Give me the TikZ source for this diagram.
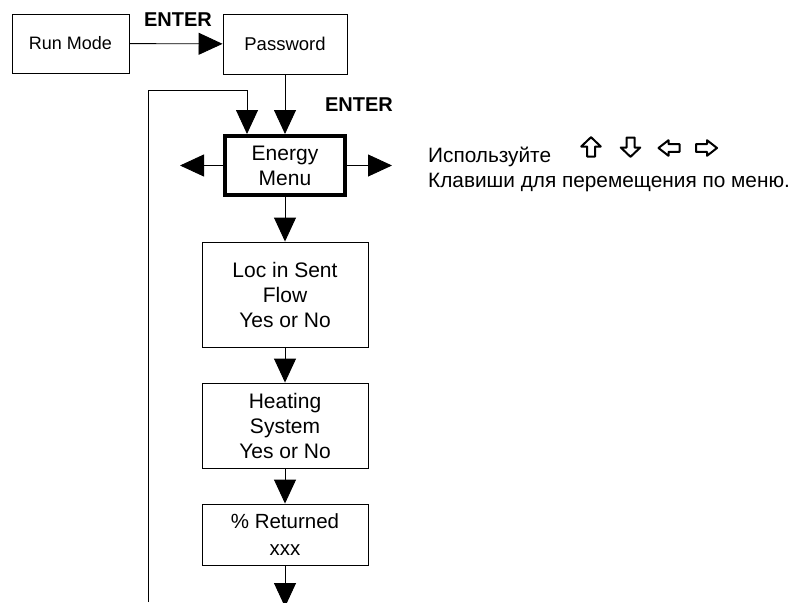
\documentclass[tikz,border=0pt]{standalone}
\usepackage{fontspec}
\setmainfont{Liberation Sans}
\usetikzlibrary{positioning,arrows.meta}

\begin{document}
\begin{tikzpicture}[
  x=1pt, y=-1pt,
  menubox/.style={draw=black, line width=0.9pt, fill=white, inner sep=0pt, align=center, font=\fontsize{21}{25}\selectfont},
  mainbox/.style={menubox, line width=4pt},
  keylabel/.style={font=\fontsize{20}{22}\selectfont\bfseries},
  note/.style={font=\fontsize{20.8}{24}\selectfont, anchor=base west, inner sep=0pt},
  keyarrow/.style={draw=black, line width=2pt, line join=round},
  arrow/.style={-{Triangle[length=24pt,width=22pt]}, line width=0.9pt, black}
]
  \useasboundingbox (0,0) rectangle (799,602);

  \node[menubox, minimum width=117pt, minimum height=59pt, font=\fontsize{18}{22}\selectfont] (runmode) at (70.5,43.5) {Run Mode};
  \node[menubox, minimum width=124pt, minimum height=60pt, font=\fontsize{18.5}{22}\selectfont] (password) at (285,44) {Password};
  \node[mainbox, minimum width=120pt, minimum height=59pt] (energy) at (285,165.5) {Energy\\Menu};
  \node[menubox, minimum width=166pt, minimum height=105pt] (loc) at (285,294.5) {Loc in Sent\\Flow\\Yes or No};
  \node[menubox, minimum width=166pt, minimum height=85pt] (heating) at (285,425.5) {Heating\\System\\Yes or No};
  \node[menubox, minimum width=166pt, minimum height=61pt, font=\fontsize{20.5}{27}\selectfont] (returned) at (285,534.5) {\% Returned\\xxx};

  \node[keylabel] (enter1) at (178,20) {ENTER};
  \node[keylabel] (enter2) at (359,105) {ENTER};

  % hint for the arrow keys
  \node[note] (use) at (428,162) {Используйте};
  \node[note] (hint) at (428,187) {Клавиши для перемещения по меню.};
  \draw[keyarrow, shift={(591,147)}, rotate=90] (-9.5,-4) -- (0.5,-4) -- (0.5,-9.8) -- (9.8,0) -- (0.5,9.8) -- (0.5,4) -- (-9.5,4) -- cycle;
  \draw[keyarrow, shift={(630.5,147)}, rotate=-90] (-9.5,-4) -- (0.5,-4) -- (0.5,-9.8) -- (9.8,0) -- (0.5,9.8) -- (0.5,4) -- (-9.5,4) -- cycle;
  \draw[keyarrow, shift={(669,148)}, rotate=180] (-10.5,-3.8) -- (0.5,-3.8) -- (0.5,-7.8) -- (10.5,0) -- (0.5,7.8) -- (0.5,3.8) -- (-10.5,3.8) -- cycle;
  \draw[keyarrow, shift={(706.5,148)}] (-10.5,-3.8) -- (0.5,-3.8) -- (0.5,-7.8) -- (10.5,0) -- (0.5,7.8) -- (0.5,3.8) -- (-10.5,3.8) -- cycle;

  \coordinate (eleft) at (180,165.5);
  \coordinate (eright) at (392,165.5);
  \coordinate (rdown) at (285,607);
  \coordinate (loopbot) at (148,602);
  \coordinate (looptop) at (148,90);

  \draw[arrow] (runmode) -- (password);
  \draw[arrow] (password) -- (energy);
  \draw[arrow] (energy) -- (eleft);
  \draw[arrow] (energy) -- (eright);
  \draw[arrow] (energy) -- (loc);
  \draw[arrow] (loc) -- (heating);
  \draw[arrow] (heating) -- (returned);
  \draw[arrow] (returned) -- (rdown);
  \draw[arrow] (loopbot) -- (looptop) -| ([xshift=-38pt]energy.north);
\end{tikzpicture}
\end{document}
